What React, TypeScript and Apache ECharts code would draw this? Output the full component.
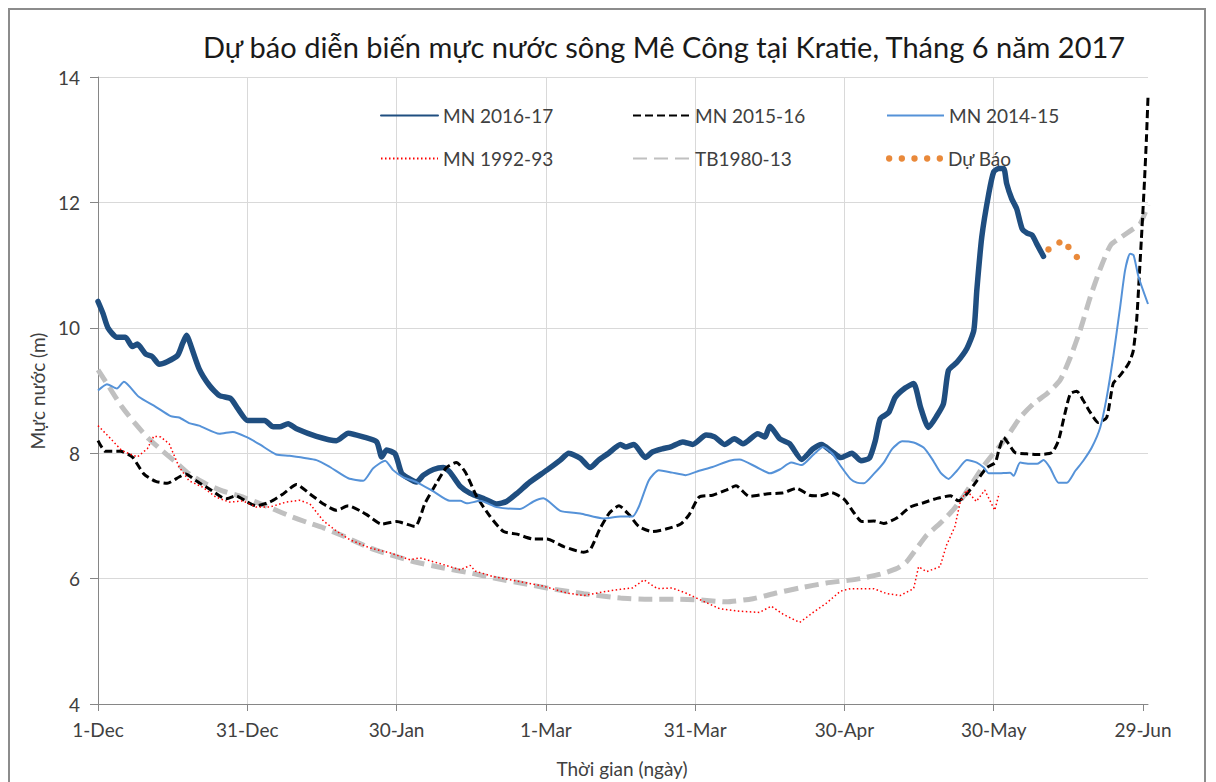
import React, { useEffect, useRef } from 'react';
import * as echarts from 'echarts';

// x = days since 1-Dec
const xTickDays = [0, 30, 60, 90, 120, 150, 180, 210];
const xTickLabels = ['1-Dec', '31-Dec', '30-Jan', '1-Mar', '31-Mar', '30-Apr', '30-May', '29-Jun'];
const yTicks = [4, 6, 8, 10, 12, 14];

const seriesNames = ['MN 2016-17', 'MN 2015-16', 'MN 2014-15', 'MN 1992-93', 'TB1980-13', 'Dự Báo'];

const mn201617 = [
  [0, 10.42], [1, 10.23], [2, 10.0], [3.8, 9.85], [5.5, 9.85], [6.9, 9.7], [7.9, 9.74], [9.6, 9.58], [10.9, 9.54],
  [12.3, 9.42], [13.9, 9.46], [16, 9.56], [17, 9.75], [17.8, 9.88], [18.3, 9.8], [20.3, 9.35], [22.4, 9.08],
  [24.4, 8.92], [26.7, 8.87], [28.1, 8.71], [30.1, 8.52], [33.5, 8.52], [35.2, 8.42], [36.5, 8.42], [38.2, 8.47],
  [39.9, 8.39], [43.9, 8.27], [47.9, 8.2], [50.3, 8.32], [53.3, 8.26], [56, 8.18], [57, 7.94], [58, 8.05],
  [59.7, 7.99], [61, 7.68], [62, 7.62], [64, 7.54], [65.4, 7.65], [67.4, 7.74], [69.4, 7.77], [70.7, 7.7],
  [72.8, 7.47], [74.8, 7.36], [77.4, 7.28], [80.1, 7.19], [82.1, 7.23], [84.2, 7.36], [86.8, 7.54], [90.2, 7.73],
  [92.9, 7.89], [94.6, 8.0], [96.9, 7.92], [98.9, 7.77], [100.6, 7.89], [102.6, 8.0], [105, 8.14], [106, 8.1],
  [107.7, 8.14], [110, 7.93], [111.4, 8.02], [113.4, 8.07], [115.1, 8.1], [117.5, 8.18], [119.5, 8.14],
  [122.2, 8.29], [123.9, 8.26], [125.9, 8.14], [127.9, 8.23], [129.6, 8.15], [132.6, 8.31], [134, 8.26],
  [135, 8.43], [137, 8.23], [139, 8.15], [141.4, 7.9], [143.7, 8.07], [145.4, 8.14], [147.4, 8.03], [149.3, 7.93],
  [151.5, 8.0], [153.3, 7.88], [155, 7.92], [156.2, 8.2], [157.2, 8.55], [158.9, 8.65], [160.2, 8.89],
  [162.2, 9.04], [163.9, 9.11], [165.3, 8.73], [166.9, 8.41], [168.6, 8.6], [169.9, 8.79], [170.9, 9.32],
  [172.6, 9.45], [174.6, 9.67], [176, 9.96], [176.6, 10.6], [177.6, 11.45], [179, 12.14], [180, 12.49],
  [181, 12.54], [182, 12.54], [182.6, 12.3], [183.6, 12.06], [184.6, 11.9], [185.7, 11.58], [186.7, 11.51],
  [187.7, 11.48], [188.7, 11.33], [190, 11.14],
];

const mn201516 = [
  [0, 8.2], [1.5, 8.03], [4.5, 8.03], [6.9, 7.94], [9.2, 7.67], [11.6, 7.55], [13.9, 7.52], [16.3, 7.62],
  [17.6, 7.67], [19.7, 7.56], [22.4, 7.43], [25.7, 7.27], [27.7, 7.32], [29.8, 7.23], [31.8, 7.16], [34.5, 7.22],
  [37.2, 7.35], [39.9, 7.5], [42.6, 7.35], [45.3, 7.19], [47.9, 7.09], [50.3, 7.16], [52.7, 7.08], [54, 7.02],
  [57, 6.87], [60, 6.91], [63.7, 6.83], [65.7, 7.2], [68, 7.52], [70, 7.77], [72, 7.85], [73.8, 7.7], [76.1, 7.31],
  [78.8, 6.99], [81.5, 6.75], [84.2, 6.71], [87.5, 6.63], [90.2, 6.63], [93.6, 6.51], [97.6, 6.42], [98.9, 6.46],
  [100.9, 6.8], [102.8, 7.05], [104.7, 7.16], [106.7, 7.02], [108.7, 6.83], [111.4, 6.75], [114.1, 6.79],
  [117.1, 6.87], [118.8, 7.02], [120.8, 7.3], [123.5, 7.33], [126.2, 7.41], [128.2, 7.48], [130.9, 7.31],
  [134.3, 7.35], [137.7, 7.37], [140.4, 7.44], [143, 7.33], [145.1, 7.32], [147.4, 7.37], [150, 7.26],
  [151.9, 7.05], [153.5, 6.91], [155.9, 6.92], [157.9, 6.88], [160.6, 6.97], [163.2, 7.14], [165.9, 7.21],
  [168.6, 7.28], [171.3, 7.32], [172.9, 7.24], [174.6, 7.35], [176.6, 7.56], [178.6, 7.77], [180.3, 7.85],
  [181, 8.04], [182, 8.25], [183, 8.15], [184.3, 8.01], [186.7, 7.99], [189.3, 7.98], [191.7, 8.01], [193, 8.2],
  [194.3, 8.63], [195.4, 8.95], [196.7, 8.99], [198, 8.84], [199.4, 8.65], [201, 8.49], [202.7, 8.57],
  [204, 9.11], [205.4, 9.24], [207.1, 9.43], [208, 9.62], [208.7, 10.1], [209.3, 10.9], [209.8, 11.6],
  [210.3, 12.35], [210.7, 13.05], [211, 13.68],
];

const mn201415 = [
  [0, 9.0], [1.8, 9.1], [3.8, 9.03], [5.2, 9.14], [8.2, 8.9], [11.6, 8.74], [14.6, 8.59], [16.3, 8.57],
  [18.3, 8.48], [20.3, 8.44], [24.4, 8.31], [27.1, 8.34], [29.8, 8.26], [32.5, 8.14], [35.8, 7.98], [38.5, 7.96],
  [43.9, 7.89], [46.6, 7.78], [50.3, 7.6], [53.3, 7.56], [55.3, 7.76], [57.7, 7.88], [59.3, 7.73], [61.3, 7.62],
  [64, 7.54], [67.4, 7.39], [70.7, 7.24], [72.8, 7.24], [74.1, 7.2], [76.8, 7.24], [80.1, 7.14], [84.8, 7.11],
  [87.5, 7.23], [89.5, 7.28], [92.9, 7.08], [96.9, 7.04], [101.6, 6.96], [105, 6.99], [107.4, 6.99],
  [108.7, 7.15], [110.7, 7.57], [112.7, 7.73], [115.4, 7.69], [118.1, 7.65], [120.8, 7.72], [123.5, 7.78],
  [126.9, 7.88], [128.9, 7.9], [132.3, 7.78], [135, 7.68], [137, 7.74], [139.3, 7.85], [141.4, 7.81],
  [143.7, 7.97], [145.7, 8.1], [147.5, 8.0], [149.2, 7.8], [151.2, 7.59], [152.5, 7.53], [153.9, 7.52],
  [155.9, 7.67], [157.9, 7.85], [159.6, 8.07], [161.6, 8.19], [163.9, 8.17], [165.9, 8.09], [167.6, 7.91],
  [169.3, 7.69], [170.9, 7.59], [172.6, 7.72], [174.6, 7.89], [176.6, 7.85], [178, 7.77], [179, 7.68],
  [180.6, 7.68], [183.3, 7.69], [184, 7.64], [185.3, 7.85], [187.3, 7.83], [188.7, 7.83], [190, 7.89],
  [191.3, 7.77], [193, 7.53], [194.7, 7.53], [196.4, 7.72], [198, 7.88], [199.7, 8.09], [201.4, 8.41],
  [202.7, 8.89], [204, 9.53], [205.4, 10.33], [206.4, 10.92], [207.4, 11.18], [208.1, 11.16], [209.1, 10.81],
  [211, 10.38],
];

const mn199293 = [
  [0, 8.44], [2.2, 8.26], [4.8, 8.04], [7.9, 7.94], [9.9, 8.07], [11.2, 8.27], [12.6, 8.26], [14.3, 8.15],
  [16.3, 7.78], [18.3, 7.56], [21, 7.46], [23.7, 7.3], [26.4, 7.22], [29.1, 7.24], [31.8, 7.14], [34.5, 7.14],
  [37.8, 7.22], [40.5, 7.25], [42.6, 7.19], [45.3, 6.92], [47.9, 6.76], [50.6, 6.62], [54.6, 6.49], [58.7, 6.41],
  [62.7, 6.3], [64.7, 6.33], [68.7, 6.24], [72.8, 6.14], [74.8, 6.21], [75.8, 6.12], [79.5, 6.03], [84.2, 5.96],
  [89.5, 5.88], [94.2, 5.77], [97.6, 5.73], [101.6, 5.79], [105, 5.83], [107.4, 5.85], [109.7, 5.98],
  [112.4, 5.84], [115.4, 5.85], [118.1, 5.77], [120.8, 5.67], [124.9, 5.52], [128.9, 5.48], [132.9, 5.46],
  [135.3, 5.56], [137.7, 5.43], [141, 5.3], [143.7, 5.46], [146.4, 5.61], [149.2, 5.8], [151.2, 5.84],
  [155.9, 5.84], [158.5, 5.76], [161.2, 5.73], [163.9, 5.84], [164.9, 6.19], [166.5, 6.11], [169.2, 6.19],
  [170.5, 6.53], [172.2, 6.83], [173.2, 7.2], [174.5, 7.41], [176.5, 7.23], [178.2, 7.41], [180.2, 7.09],
  [181.1, 7.36],
];

const tb198013 = [
  [0, 9.33], [2.2, 9.06], [4.8, 8.74], [7.5, 8.47], [10.2, 8.23], [12.9, 8.04], [15.6, 7.86], [18.3, 7.67],
  [21.7, 7.51], [25, 7.4], [28.4, 7.32], [31.8, 7.22], [35.2, 7.11], [38.5, 7.0], [41.9, 6.9], [45.3, 6.81],
  [49.3, 6.68], [54.6, 6.49], [58.7, 6.38], [64, 6.26], [69.4, 6.17], [74.8, 6.09], [80.1, 6.0], [85.5, 5.92],
  [90.9, 5.84], [97.6, 5.76], [105, 5.69], [110.7, 5.67], [116.1, 5.67], [120.8, 5.66], [126.2, 5.63],
  [131.6, 5.68], [136.3, 5.77], [141, 5.85], [146.4, 5.93], [150.5, 5.97], [153.2, 6.0], [157.2, 6.07],
  [160.5, 6.16], [162.5, 6.27], [164.5, 6.48], [166.5, 6.69], [169.2, 6.88], [171.9, 7.1], [173.9, 7.31],
  [175.9, 7.55], [177.9, 7.79], [180.5, 8.05], [182.6, 8.25], [185.3, 8.57], [188, 8.79], [190.7, 8.95],
  [193.3, 9.16], [195.4, 9.53], [197.4, 9.97], [199.4, 10.49], [201.4, 10.94], [203.5, 11.32], [205.7, 11.45],
  [207.5, 11.55], [209.4, 11.66], [210.5, 11.85], [211, 11.96],
];

const duBao = [
  [191, 11.25], [193.2, 11.36], [195, 11.29], [196.7, 11.13],
];

const TITLE = 'Dự báo diễn biến mực nước sông Mê Công tại Kratie, Tháng 6 năm 2017';
const X_NAME = 'Thời gian (ngày)';
const Y_NAME = 'Mực nước (m)';

const FONT = 'Lato, "Noto Sans", sans-serif';
const TEXT_COLOR = '#404040';

const DOTS_ICON =
  'path://M0,3a3,3 0 1,0 6,0a3,3 0 1,0 -6,0M12,3a3,3 0 1,0 6,0a3,3 0 1,0 -6,0M24,3a3,3 0 1,0 6,0a3,3 0 1,0 -6,0M36,3a3,3 0 1,0 6,0a3,3 0 1,0 -6,0M48,3a3,3 0 1,0 6,0a3,3 0 1,0 -6,0';

function legendAt(item: any, left: number, top: number, hideSymbol: boolean) {
  const l: any = {
    data: [item],
    left,
    top,
    padding: 0,
    itemWidth: 57,
    itemHeight: 14,
    selectedMode: false,
    textStyle: { fontSize: 19, color: TEXT_COLOR, fontFamily: FONT },
  };
  if (hideSymbol) l.itemStyle = { opacity: 0 };
  return l;
}

export default function App() {
  const ref = useRef<HTMLDivElement>(null);

  useEffect(() => {
    if (!ref.current) return;
    const chart = echarts.init(ref.current, null, { renderer: 'svg' });

    const fmtX = (v: number) => {
      const i = xTickDays.indexOf(v);
      return i >= 0 ? xTickLabels[i] : '';
    };
    const fmtY = (v: number) => (yTicks.indexOf(v) >= 0 ? String(v) : '');

    const lineBase = { type: 'line', symbol: 'none', showSymbol: false, clip: true };

    const option: any = {
      animation: false,
      backgroundColor: '#ffffff',
      grid: { left: 90, top: 69, right: 60, bottom: 78 },
      xAxis: {
        type: 'value',
        min: 0,
        max: 211,
        interval: 15,
        axisLine: { show: true, onZero: false, lineStyle: { color: '#868686', width: 1 } },
        axisTick: { show: true, length: 7, customValues: xTickDays, lineStyle: { color: '#868686' } },
        axisLabel: {
          customValues: xTickDays,
          formatter: fmtX,
          margin: 16,
          fontSize: 19,
          color: TEXT_COLOR,
          fontFamily: FONT,
        },
        splitLine: { show: true, showMaxLine: false, lineStyle: { color: '#d9d9d9', width: 1 } },
      },
      yAxis: {
        type: 'value',
        min: 4,
        max: 14,
        interval: 1,
        axisLine: { show: true, onZero: false, lineStyle: { color: '#868686', width: 1 } },
        axisTick: { show: true, length: 8, customValues: yTicks, lineStyle: { color: '#868686' } },
        axisLabel: {
          customValues: yTicks,
          formatter: fmtY,
          margin: 18,
          fontSize: 19,
          color: TEXT_COLOR,
          fontFamily: FONT,
        },
        splitLine: { show: true, lineStyle: { color: '#d9d9d9', width: 1 } },
      },
      legend: [
        legendAt(seriesNames[0], 372, 98, true),
        legendAt(seriesNames[1], 624, 98, true),
        legendAt(seriesNames[2], 878, 98, true),
        legendAt(seriesNames[3], 372, 141, true),
        legendAt(seriesNames[4], 624, 141, true),
        legendAt({ name: seriesNames[5], icon: DOTS_ICON }, 878, 141, false),
      ],
      graphic: [
        {
          type: 'rect',
          silent: true,
          shape: { x: 1, y: 1, width: 1196, height: 900 },
          style: { fill: 'none', stroke: '#8c8c8c', lineWidth: 2 },
          z: 100,
        },
        {
          type: 'text',
          x: 656,
          y: 38,
          silent: true,
          style: {
            text: TITLE,
            fontSize: 29,
            fontFamily: FONT,
            fill: '#1a1a1a',
            align: 'center',
            verticalAlign: 'middle',
          },
        },
        {
          type: 'text',
          x: 614,
          y: 760,
          silent: true,
          style: {
            text: X_NAME,
            fontSize: 19,
            fontFamily: FONT,
            fill: TEXT_COLOR,
            align: 'center',
            verticalAlign: 'middle',
          },
        },
        {
          type: 'text',
          x: 29,
          y: 383,
          rotation: Math.PI / 2,
          silent: true,
          style: {
            text: Y_NAME,
            fontSize: 19,
            fontFamily: FONT,
            fill: TEXT_COLOR,
            align: 'center',
            verticalAlign: 'middle',
          },
        },
      ],
      series: [
        {
          ...lineBase,
          name: seriesNames[0],
          data: mn201617,
          smooth: 0.2,
          itemStyle: { color: '#1f4e80' },
          lineStyle: { color: '#1f4e80', width: 5.5, cap: 'round', join: 'round' },
          z: 3,
        },
        {
          ...lineBase,
          name: seriesNames[1],
          data: mn201516,
          smooth: 0.2,
          itemStyle: { color: '#000000' },
          lineStyle: { color: '#000000', width: 3, type: [8, 4] },
          z: 4,
        },
        {
          ...lineBase,
          name: seriesNames[2],
          data: mn201415,
          smooth: 0.2,
          itemStyle: { color: '#5592d8' },
          lineStyle: { color: '#5592d8', width: 2 },
          z: 5,
        },
        {
          ...lineBase,
          name: seriesNames[3],
          data: mn199293,
          smooth: false,
          itemStyle: { color: '#ff0000' },
          lineStyle: { color: '#ff0000', width: 1.5, type: [1.5, 2.5] },
          z: 6,
        },
        {
          ...lineBase,
          name: seriesNames[4],
          data: tb198013,
          smooth: 0.2,
          itemStyle: { color: '#c0c0c0' },
          lineStyle: { color: '#c0c0c0', width: 5, type: [14, 7] },
          z: 2,
        },
        {
          type: 'scatter',
          name: seriesNames[5],
          data: duBao,
          symbol: 'circle',
          symbolSize: 6.5,
          itemStyle: { color: '#e36c09' },
          z: 7,
        },
      ],
    };

    chart.setOption(option);
    return () => chart.dispose();
  }, []);

  return <div ref={ref} style={{ width: 1200, height: 774 }} />;
}
